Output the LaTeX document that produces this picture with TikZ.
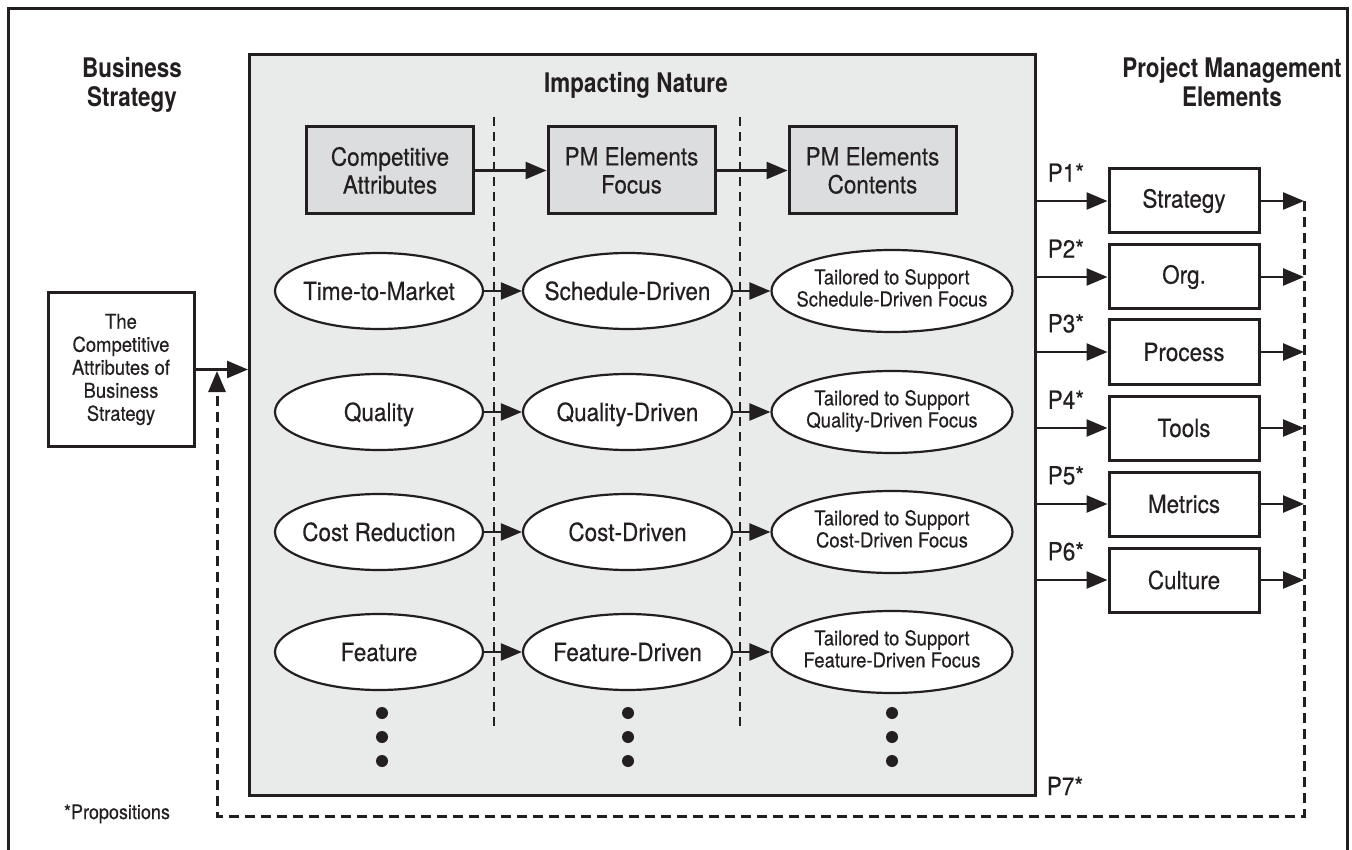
\documentclass[tikz,border=0pt]{standalone}
\usepackage{fontspec}
\setmainfont{TeX Gyre Heros}[FakeStretch=0.9, FakeBold=0.3]
\newfontfamily\ttlfont{TeX Gyre Heros}[FakeStretch=0.83]
\usetikzlibrary{arrows.meta,shapes.geometric}
\definecolor{ink}{HTML}{231F20}
\definecolor{panel}{HTML}{E9EBEA}
\definecolor{hdr}{HTML}{DCDDDE}
\newcommand\zc[1]{\makebox[0pt]{#1}}
\newcommand\zt[2]{\makebox[0pt]{\begin{tabular}{@{}c@{}}#1\\#2\end{tabular}}}
\tikzset{
  frameline/.style={draw=ink, line width=3pt},
  panelbox/.style={draw=ink, fill=panel, line width=3pt, minimum width=786pt, minimum height=741pt, inner sep=0pt},
  title/.style={font=\ttlfont\bfseries\fontsize{27}{29}\selectfont, align=center, inner sep=0pt},
  hdrbox/.style={draw=ink, fill=hdr, line width=3pt, minimum width=167pt, minimum height=87pt, align=center, inner sep=0pt, font=\fontsize{25}{28}\selectfont},
  oval/.style={ellipse, draw=ink, fill=white, line width=2.2pt, minimum width=208pt, minimum height=76pt, inner sep=0pt, text height=18pt, text depth=0pt, font=\fontsize{25}{28}\selectfont},
  toval/.style={ellipse, draw=ink, fill=white, line width=2.2pt, minimum width=241pt, minimum height=82pt, inner sep=0pt, font=\fontsize{20.5}{22}\selectfont},
  lbox/.style={draw=ink, fill=white, line width=3pt, minimum width=146pt, minimum height=153pt, align=center, inner sep=0pt, font=\fontsize{20.5}{23}\selectfont},
  pmbox/.style={draw=ink, fill=white, line width=3pt, minimum width=150pt, minimum height=64pt, inner sep=0pt, font=\fontsize{25}{28}\selectfont},
  arr/.style={draw=ink, line width=2.5pt, -{Triangle[length=21pt,width=17pt]}},
  sepline/.style={draw=ink, line width=2pt, dash pattern=on 9pt off 6pt},
  fb/.style={draw=ink, line width=3pt, dash pattern=on 10pt off 6pt, -{Triangle[length=21pt,width=17pt]}},
  plab/.style={anchor=south, inner sep=0pt, yshift=18pt, pos=0.41, font=\fontsize{25}{28}\selectfont},
  ptxt/.style={inner sep=0pt, font=\fontsize{25}{28}\selectfont},
  note/.style={inner sep=0pt, font=\fontsize{20}{22}\selectfont},
  dot/.style={fill=ink}
}
\begin{document}
\begin{tikzpicture}[x=1pt,y=-1pt, every node/.style={text=ink}]
\useasboundingbox (0,0) rectangle (1352,850);
\fill[white] (0,0) rectangle (1352,850);
\draw[frameline] (8,860) -- (8,9) -- (1347,9) -- (1347,860);

\node[panelbox, anchor=north west] (panel) at (248,53) {};

\node[title] (bs) at (132,85) {Business\\Strategy};
\node[title] (pme) at (1232,82) {Project Management\\Elements};
\node[title, anchor=base] (imp) at (636,93) {Impacting Nature};

\node[hdrbox] (ca) at (390,170.5) {Competitive\\Attributes};
\node[hdrbox] (pf) at (631.5,170.5) {PM Elements\\Focus};
\node[hdrbox] (pc) at (872.5,170.5) {PM Elements\\Contents};
\draw[arr] (ca) -- (pf);
\draw[arr] (pf) -- (pc);

\coordinate (s1t) at (494,117); \coordinate (s1b) at (494,731);
\coordinate (s2t) at (740,117); \coordinate (s2b) at (740,731);
\draw[sepline] (s1t) -- (s1b);
\draw[sepline] (s2t) -- (s2b);

\node[oval] (a1) at (379,291) {\zc{Time-to-Market}};
\node[oval] (a2) at (379,412) {\zc{Quality}};
\node[oval] (a3) at (379,532) {\zc{Cost Reduction}};
\node[oval] (a4) at (379,652) {\zc{Feature}};
\node[oval, minimum width=209pt] (f1) at (627.5,291) {\zc{Schedule-Driven}};
\node[oval, minimum width=209pt] (f2) at (627.5,412) {\zc{Quality-Driven}};
\node[oval, minimum width=209pt] (f3) at (627.5,532) {\zc{Cost-Driven}};
\node[oval, minimum width=209pt] (f4) at (627.5,652) {\zc{Feature-Driven}};
\node[toval] (c1) at (892,291) {\zt{Tailored to Support}{Schedule-Driven Focus}};
\node[toval] (c2) at (892,412) {\zt{Tailored to Support}{Quality-Driven Focus}};
\node[toval] (c3) at (892,532) {\zt{Tailored to Support}{Cost-Driven Focus}};
\node[toval] (c4) at (892,652) {\zt{Tailored to Support}{Feature-Driven Focus}};
\foreach \i in {1,2,3,4} {
  \draw[arr] (a\i) -- (f\i);
  \draw[arr] (f\i) -- (c\i);
}
\foreach \x in {382,628,892} \foreach \y in {713,737,761} \fill[dot] (\x,\y) circle (6pt);

\node[lbox] (cab) at (121,369.5) {The\\Competitive\\Attributes of\\Business\\Strategy};
\draw[arr] (cab.east) -- (cab.east -| panel.west);

\coordinate (rtop) at (1304,201);
\coordinate (rbot) at (1304,816);
\coordinate (lbot) at (217,816);
\coordinate (ltip) at (217,371);

\foreach \i/\t/\y in {1/Strategy/201, 2/Org./277, 3/Process/352, 4/Tools/428, 5/Metrics/504, 6/Culture/580} {
  \node[pmbox] (e\i) at (1184,\y) {\t};
  \draw[arr] (panel.east |- e\i.west) -- node[plab] {P\i*} (e\i.west);
  \draw[arr] (e\i.east) -- (e\i.east -| rtop);
}
\draw[fb] (rtop) -- (rbot) -- (lbot) -- (ltip);
\node[ptxt, anchor=base] (p7) at (1065,795) {P7*};
\node[note, anchor=base] (prop) at (117,819) {*Propositions};
\end{tikzpicture}
\end{document}
